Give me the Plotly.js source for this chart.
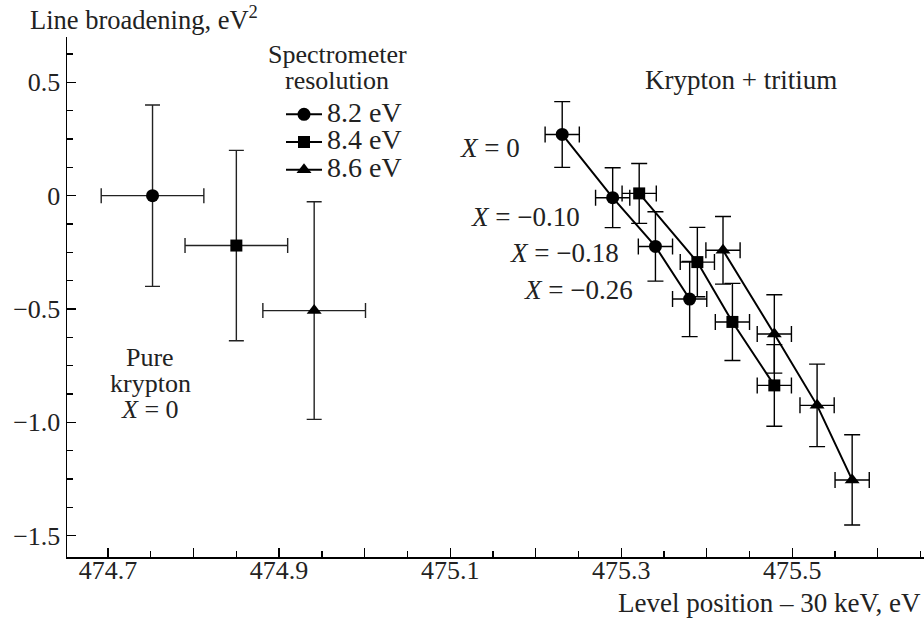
<!DOCTYPE html>
<html><head><meta charset="utf-8">
<script src="https://cdn.plot.ly/plotly-3.0.1.min.js"></script>
<style>body{margin:0;background:#fff}#chart{width:924px;height:620px}</style>
</head><body><div id="chart"></div>
<script>
// Pure krypton (X = 0), one point per spectrometer resolution
const pureX    = [474.752, 474.850, 474.941];
const pureY    = [0.0, -0.22, -0.507];
const pureXerr = [0.06, 0.06, 0.06];
const pureYerr = [0.40, 0.42, 0.48];

// Krypton + tritium, X = 0, -0.10, -0.18, -0.26
const res82X = [475.231, 475.290, 475.340, 475.380];
const res82Y = [0.270, -0.009, -0.224, -0.456];
const res82Yerr = [0.145, 0.132, 0.153, 0.166];

const res84X = [475.321, 475.389, 475.430, 475.479];
const res84Y = [0.010, -0.293, -0.557, -0.837];
const res84Yerr = [0.132, 0.153, 0.170, 0.180];

const res86X = [475.419, 475.479, 475.529, 475.570];
const res86Y = [-0.241, -0.610, -0.925, -1.254];
const res86Yerr = [0.149, 0.173, 0.182, 0.199];

const tritXerr = [0.02, 0.02, 0.02, 0.02];

const seriesNames = ['8.2 eV', '8.4 eV', '8.6 eV'];
const symbols = ['circle', 'square', 'triangle-up'];

const yTickVals = [0.5, 0, -0.5, -1.0, -1.5];
const yTickText = ['0.5', '0', '\u22120.5', '\u22121.0', '\u22121.5'];

const FONT = 'Liberation Serif, Times New Roman, serif';
const FS = 26;
const TXT = '#222';

function errx(arr, w, c){ return {type:'data', array:arr, visible:true, color:c||'#000', thickness:1.4, width:w}; }

const tritSets = [[res82X,res82Y,res82Yerr],[res84X,res84Y,res84Yerr],[res86X,res86Y,res86Yerr]];
const traces = [];
tritSets.forEach((s,i)=>{
  traces.push({
    x:s[0], y:s[1], type:'scatter', mode:'lines+markers',
    name:'<span style="font-size:28px">' + seriesNames[i] + '</span>',
    line:{color:'#000', width:2},
    marker:{symbol:symbols[i], size: i===1?12:13, color:'#000'},
    error_y: errx(s[2], 8), error_x: errx(tritXerr, 8),
    cliponaxis:false
  });
});
for (let i=0;i<3;i++){
  traces.push({
    x:[pureX[i]], y:[pureY[i]], type:'scatter', mode:'markers', showlegend:false,
    marker:{symbol:symbols[i], size: i===1?12:13, color:'#000'},
    error_y: errx([pureYerr[i]], 7.5, '#222'), error_x: errx([pureXerr[i]], 7.5, '#222')
  });
}

const ann = (text, x, y, xanchor, size) => ({
  text, x, y, xref:'paper', yref:'paper', xanchor: xanchor||'center', yanchor:'middle',
  showarrow:false, font:{family:FONT, size:size||FS, color:TXT}
});

// paper coords helpers (plot area l=67,t=37,w=857,h=520)
const px = v => (v-67)/857;
const py = v => (557-v)/520;

const layout = {
  width:924, height:620,
  margin:{l:67, r:0, t:37, b:63},
  paper_bgcolor:'#fff', plot_bgcolor:'#fff',
  font:{family:FONT, size:FS, color:TXT},
  showlegend:true,
  legend:{x:px(281), y:py(95.5), xanchor:'left', yanchor:'top', bgcolor:'rgba(0,0,0,0)',
          font:{family:FONT, size:19, color:TXT}, tracegroupgap:0, itemwidth:36},
  xaxis:{range:[474.652, 475.654], showgrid:false, zeroline:false, showline:true,
         linecolor:'#000', linewidth:1.5, ticks:'inside', ticklen:9, tickwidth:1.3, tickcolor:'#000',
         tickmode:'linear', tick0:474.7, dtick:0.1, ticklabelstep:2, tickformat:'.1f',
         ticklabelstandoff:-11,
         minor:{dtick:0.05, tick0:474.7, ticks:'inside', ticklen:6, tickwidth:1.3, tickcolor:'#000'},
         tickfont:{family:FONT, size:FS, color:TXT}},
  yaxis:{range:[-1.594, 0.70], showgrid:false, zeroline:false, showline:true,
         linecolor:'#000', linewidth:1.5, ticks:'inside', ticklen:9, tickwidth:1.3, tickcolor:'#000',
         tickmode:'array', tickvals:yTickVals, ticktext:yTickText,
         minor:{dtick:0.125, tick0:0, ticks:'inside', ticklen:6, tickwidth:1.3, tickcolor:'#000'},
         tickfont:{family:FONT, size:FS, color:TXT}},
  annotations:[
    ann('Line broadening, eV<sup>2</sup>', px(28), py(18), 'left', 26.5),
    ann('Level position \u2013 30 keV, eV', px(923), py(603), 'right', 27),
    ann('Spectrometer', px(337), py(55)),
    ann('resolution', px(337), py(80)),
    ann('Krypton + tritium', px(741), py(80), 'center', 27),
    ann('<i>X</i> = 0', px(490), py(148), 'center', 27),
    ann('<i>X</i> = \u22120.10', px(525), py(217), 'center', 27),
    ann('<i>X</i> = \u22120.18', px(564), py(253), 'center', 27),
    ann('<i>X</i> = \u22120.26', px(578), py(290), 'center', 27),
    ann('Pure', px(150), py(357)),
    ann('krypton', px(150), py(383)),
    ann('<i>X</i> = 0', px(150), py(409))
  ]
};

Plotly.newPlot('chart', traces, layout, {displayModeBar:false, staticPlot:true});
</script>
</body></html>
